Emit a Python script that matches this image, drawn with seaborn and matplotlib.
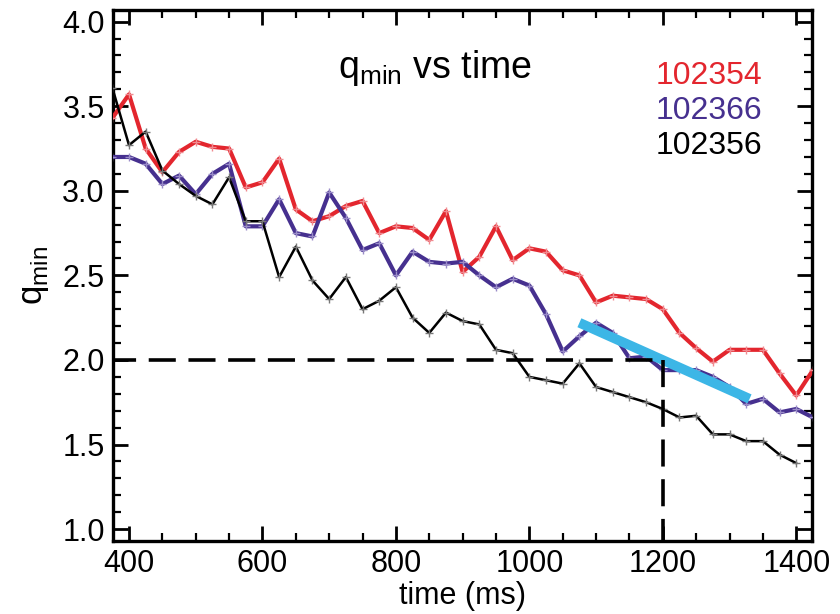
import numpy as np
import pandas as pd
import matplotlib
matplotlib.use("Agg")
import matplotlib.pyplot as plt
from matplotlib.ticker import MultipleLocator
import seaborn as sns

# ---------- DATA ----------
time_ms = list(range(375, 1426, 25))

q_102354 = [3.43, 3.57, 3.25, 3.11, 3.23, 3.29, 3.26, 3.25, 3.02, 3.05,
            3.19, 2.89, 2.82, 2.85, 2.91, 2.94, 2.75, 2.79, 2.78, 2.71,
            2.88, 2.52, 2.61, 2.79, 2.59, 2.66, 2.64, 2.53, 2.50, 2.34,
            2.38, 2.37, 2.36, 2.30, 2.16, 2.07, 1.99, 2.06, 2.06, 2.06,
            1.92, 1.79, 1.94]
q_102366 = [3.20, 3.20, 3.16, 3.04, 3.09, 2.98, 3.10, 3.16, 2.79, 2.79,
            2.95, 2.75, 2.73, 2.99, 2.84, 2.65, 2.69, 2.50, 2.64, 2.58,
            2.57, 2.58, 2.50, 2.43, 2.48, 2.44, 2.27, 2.05, 2.14, 2.22,
            2.16, 2.01, 2.02, 1.94, 1.94, 1.94, 1.90, 1.84, 1.74, 1.77,
            1.69, 1.71, 1.66]
q_102356 = [3.61, 3.27, 3.35, 3.12, 3.04, 2.97, 2.92, 3.08, 2.82, 2.82,
            2.49, 2.67, 2.47, 2.36, 2.49, 2.30, 2.35, 2.43, 2.25, 2.16,
            2.28, 2.23, 2.21, 2.06, 2.04, 1.90, 1.88, 1.86, 1.98, 1.84,
            1.81, 1.78, 1.75, 1.71, 1.66, 1.67, 1.56, 1.56, 1.52, 1.52,
            1.44, 1.39]

# fitted trend segment (cyan)
fit_t = [1075, 1330]
fit_q = [2.22, 1.77]

q_limit = 2.0
t_limit = 1200

shots = ["102354", "102366", "102356"]
colors = {"102354": "#e3262e", "102366": "#46308f", "102356": "#000000"}
marker_colors = {"102354": "#f08a90", "102366": "#9a8cc8", "102356": "#777777"}
widths = {"102354": 3.0, "102366": 3.0, "102356": 1.8}

frames = []
for shot, vals in zip(shots, [q_102354, q_102366, q_102356]):
    frames.append(pd.DataFrame({"time": time_ms[:len(vals)], "qmin": vals, "shot": shot}))
df = pd.concat(frames, ignore_index=True)

# ---------- PLOT ----------
sns.set_style("ticks")
plt.rcParams["font.family"] = ["Liberation Sans Narrow", "Liberation Sans", "DejaVu Sans"]
for key in ["text.color", "axes.labelcolor", "xtick.color", "ytick.color", "axes.edgecolor"]:
    plt.rcParams[key] = "black"

fig = plt.figure(figsize=(8.4, 6.14), dpi=100)
ax = fig.add_axes([0.1345, 0.119, 0.8325, 0.865])

for shot in shots:
    sub = df[df["shot"] == shot]
    sns.lineplot(data=sub, x="time", y="qmin", ax=ax, color=colors[shot],
                 linewidth=widths[shot], marker="+", markersize=6,
                 markeredgewidth=1.0, markeredgecolor=marker_colors[shot],
                 legend=False, zorder=3)

ax.plot(fit_t, fit_q, color="#3cb6e6", linewidth=7, solid_capstyle="butt", zorder=4)

ax.plot([370, t_limit], [q_limit, q_limit], color="black", linestyle=(0, (7.5, 3.5)),
        linewidth=2.6, zorder=5)
ax.plot([t_limit, t_limit], [0.9, q_limit], color="black", linestyle=(0, (7.5, 3.5)),
        linewidth=2.6, zorder=5)

ax.set_xlim(376, 1424)
ax.set_ylim(0.93, 4.07)
ax.xaxis.set_major_locator(MultipleLocator(200))
ax.xaxis.set_minor_locator(MultipleLocator(50))
ax.yaxis.set_major_locator(MultipleLocator(0.5))
ax.yaxis.set_minor_locator(MultipleLocator(0.1))
ax.yaxis.set_major_formatter(matplotlib.ticker.FormatStrFormatter("%.1f"))

for side in ["top", "right", "bottom", "left"]:
    ax.spines[side].set_visible(True)
    ax.spines[side].set_linewidth(2.4)
ax.tick_params(which="major", direction="in", length=11, width=2,
               top=True, right=True, labelsize=22, pad=6)
ax.tick_params(which="minor", direction="in", length=6, width=1.6,
               top=True, right=True)

ax.set_xlabel("time (ms)", fontsize=22, labelpad=1)
ax.set_ylabel(r"q$_{\mathregular{min}}$", fontsize=25, labelpad=8)

ax.text(0.46, 0.89, r"q$_{\mathregular{min}}$ vs time", transform=ax.transAxes,
        fontsize=27, ha="center", va="center")
for i, shot in enumerate(shots):
    ax.text(0.928, 0.875 - i * 0.066, shot, transform=ax.transAxes, color=colors[shot],
            fontsize=23, ha="right", va="center")

plt.savefig("out.png", dpi=100)
plt.close()
